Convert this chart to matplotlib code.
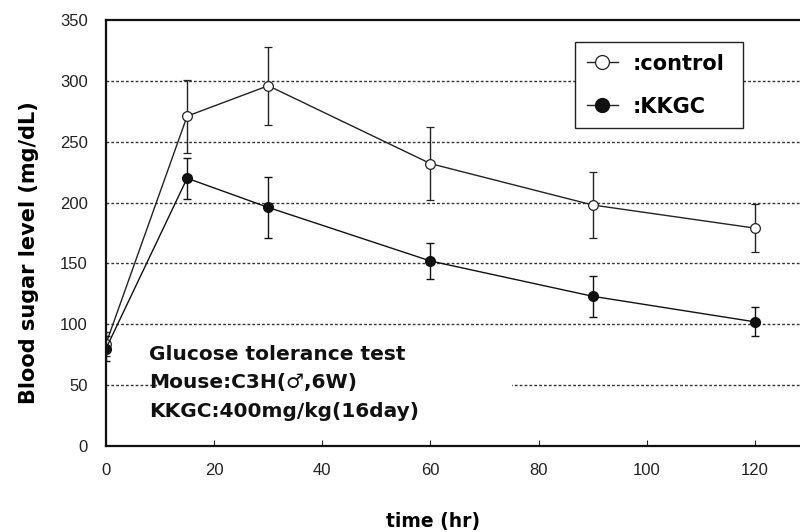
import matplotlib
matplotlib.use("Agg")
import matplotlib.pyplot as plt
from matplotlib.patches import Rectangle
from matplotlib.lines import Line2D

# Data
time = [0, 15, 30, 60, 90, 120]
control = [84, 271, 296, 232, 198, 179]
control_err = [10, 30, 32, 30, 27, 20]
kkgc = [80, 220, 196, 152, 123, 102]
kkgc_err = [10, 17, 25, 15, 17, 12]
xticks = [0, 20, 40, 60, 80, 100, 120]
yticks = [0, 50, 100, 150, 200, 250, 300, 350]
series_names = [":control", ":KKGC"]
info_lines = ["Glucose tolerance test", "Mouse:C3H(\u2642,6W)", "KKGC:400mg/kg(16day)"]

plt.rcParams['font.family'] = ['Liberation Sans', 'DejaVu Sans']

fig = plt.figure(figsize=(8, 5.32), dpi=100)
ax = fig.add_axes([106/800, 1-446/532, 694/800, 426/532])

ax.set_xlim(0, 694/5.408)
ax.set_ylim(0, 350)

# grid
for y in yticks[1:-1]:
    ax.axhline(y, color='#333333', linestyle=(0, (2, 1.5)), linewidth=1.0, zorder=1)

# white box behind text
ax.add_patch(Rectangle((9.5, 12), 65.5, 80, facecolor='white', edgecolor='none', zorder=2))

ax.errorbar(time, control, yerr=control_err, color='#222222', linewidth=1.0,
            marker='o', markersize=7, markerfacecolor='white', markeredgecolor='#222222',
            markeredgewidth=0.9, capsize=3, elinewidth=1.0, capthick=1.0, zorder=4)
ax.errorbar(time, kkgc, yerr=kkgc_err, color='#111111', linewidth=1.0,
            marker='o', markersize=7, markerfacecolor='#111111', markeredgecolor='#111111',
            capsize=3, elinewidth=1.0, capthick=1.0, zorder=5)

for i, line in enumerate(info_lines):
    ax.text(8.0, 75.5 - i * 23.5, line, fontsize=14.5, fontweight='bold', color='#111111',
            va='center', ha='left', zorder=6, family=['DejaVu Sans'])

ax.set_xticks(xticks)
ax.set_yticks(yticks)
ax.tick_params(axis='x', direction='in', length=4, pad=12, labelsize=12, colors='#222222')
ax.tick_params(axis='y', direction='in', length=0, pad=13, labelsize=12, colors='#222222')

for s in ['left', 'bottom', 'top']:
    ax.spines[s].set_linewidth(1.6)
    ax.spines[s].set_color('#111111')
ax.spines['right'].set_visible(False)

ax.set_ylabel('Blood sugar level (mg/dL)', fontsize=15, fontweight='bold',
              family=['DejaVu Sans'])
ax.yaxis.set_label_coords(-0.097, 0.453)
ax.set_xlabel('time (hr)', fontsize=13.5, fontweight='bold',
              family=['DejaVu Sans'])
ax.xaxis.set_label_coords(0.471, -0.154)

handles = [
    Line2D([], [], color='#222222', linewidth=1.0, marker='o', markersize=10,
           markerfacecolor='white', markeredgecolor='#222222', markeredgewidth=0.9),
    Line2D([], [], color='#222222', linewidth=1.0, marker='o', markersize=10,
           markerfacecolor='#111111', markeredgecolor='#111111'),
]
leg = ax.legend(handles, series_names, loc='upper left',
                bbox_to_anchor=(0.676, 0.751, 0.242, 0.197), mode='expand',
                fancybox=False, framealpha=1, edgecolor='#222222',
                prop={'size': 15, 'weight': 'bold', 'family': ['DejaVu Sans']},
                handlelength=1.5, borderpad=0.55, labelspacing=1.1, handletextpad=0.7,
                borderaxespad=0)
leg.get_frame().set_linewidth(1.0)
leg.set_zorder(10)

fig.savefig('out.png', dpi=100)
